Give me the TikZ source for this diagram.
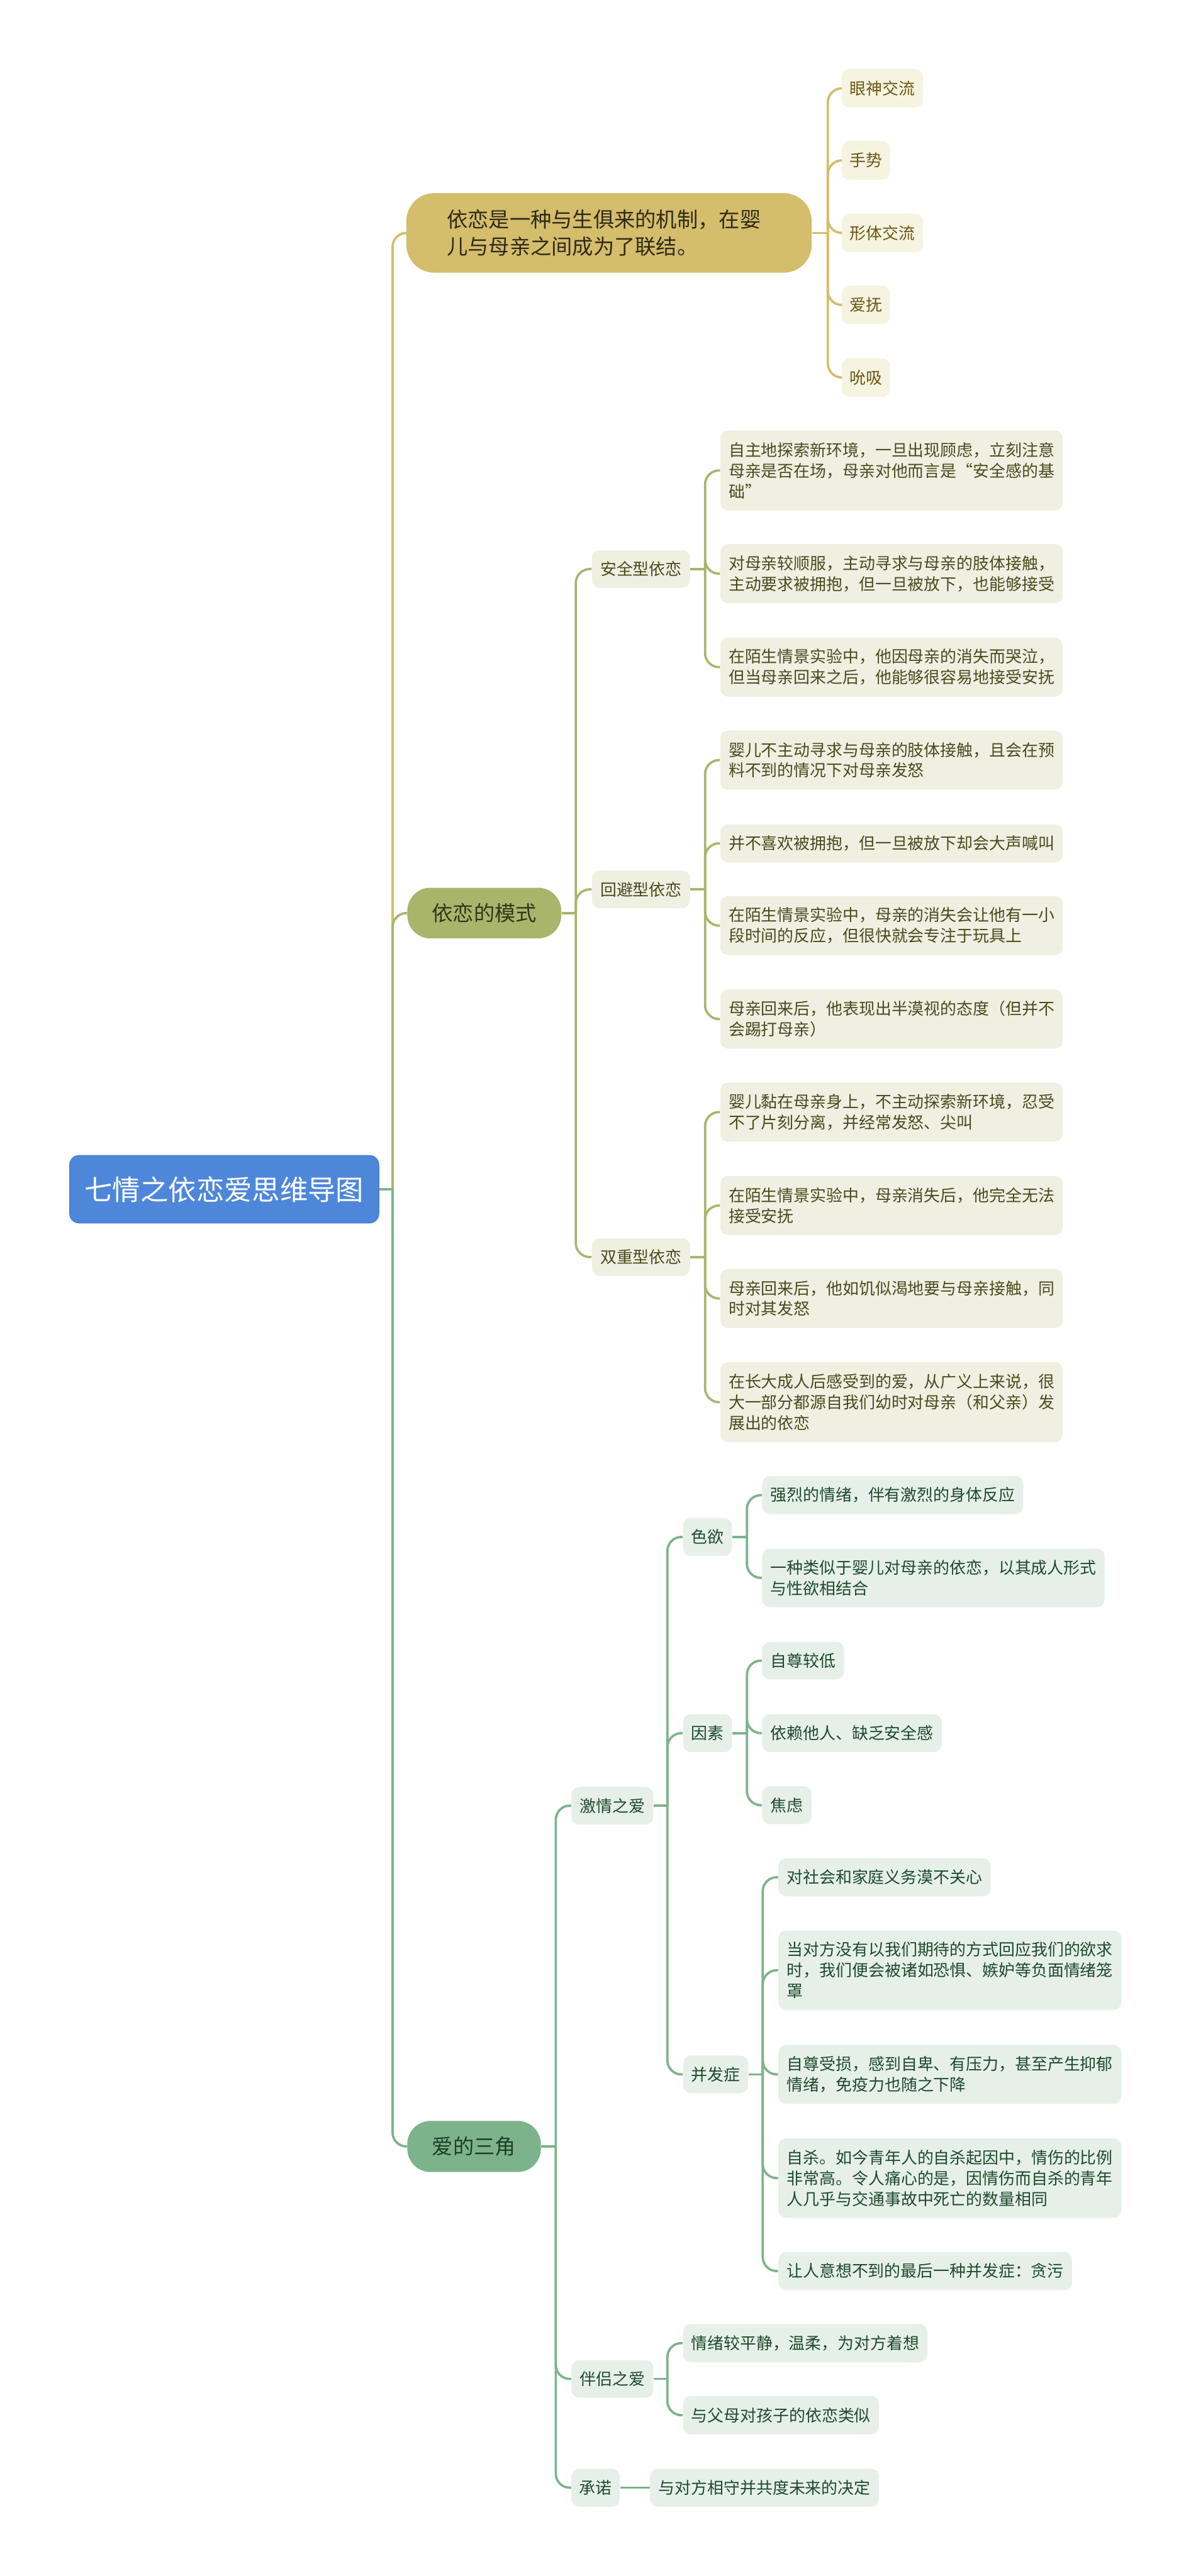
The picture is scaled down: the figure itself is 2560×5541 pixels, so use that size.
\documentclass[tikz,border=0pt]{standalone}
\usepackage{fontspec}
\setmainfont{Noto Sans CJK SC}
\definecolor{rootFill}{HTML}{4E87DA}
\definecolor{rootLine}{HTML}{4A80D0}
\definecolor{gMain}{HTML}{D4BD6B}
\definecolor{gLeaf}{HTML}{F6F3E1}
\definecolor{gText}{HTML}{6B5714}
\definecolor{gMainText}{HTML}{2F2A18}
\definecolor{oMain}{HTML}{AAB56C}
\definecolor{oLeaf}{HTML}{EFEFE2}
\definecolor{oText}{HTML}{464D1C}
\definecolor{oMainText}{HTML}{33361A}
\definecolor{nMain}{HTML}{7DB38B}
\definecolor{nLeaf}{HTML}{E6F0E9}
\definecolor{nText}{HTML}{1F4A2C}
\definecolor{nMainText}{HTML}{1F3D27}
\newcommand\fsleaf{\fontsize{9.96pt}{12.66pt}\selectfont}
\newcommand\fsmain{\fontsize{12.8pt}{16.8pt}\selectfont}
\newcommand\fsroot{\fontsize{17.07pt}{20pt}\selectfont}
\begin{document}
\begin{tikzpicture}[x=0.01cm,y=-0.01cm,
  base/.style={anchor=west, inner sep=0pt, align=left, font=\fsleaf, rounded corners=0.17cm},
  leafG/.style={base, fill=gLeaf, text=gText, minimum height=0.83cm},
  leafO/.style={base, fill=oLeaf, text=oText},
  leafN/.style={base, fill=nLeaf, text=nText},
  mainbox/.style={anchor=west, inner sep=0pt, align=left, font=\fsmain},
  lineG/.style={draw=gMain, line width=0.05cm},
  lineO/.style={draw=oMain, line width=0.05cm},
  lineN/.style={draw=nMain, line width=0.05cm},
  rc/.style={rounded corners=0.3cm}
]
\useasboundingbox (0,0) rectangle (2560,5541);

% ---------- root ----------
\node[anchor=west, inner sep=0pt, fill=rootFill, draw=rootLine, line width=0.02cm,
  rounded corners=0.2cm, minimum width=6.64cm, minimum height=1.45cm,
  font=\fsroot, text=white] (root) at (149,2558) {七情之依恋爱思维导图};

% ---------- gold branch ----------
\node[mainbox, fill=gMain, text=gMainText, rounded corners=0.6cm,
  minimum width=8.71cm, minimum height=1.71cm, text width=6.97cm] (gm) at (873,501)
  {依恋是一种与生俱来的机制，在婴\\儿与母亲之间成为了联结。};
\node[leafG, minimum width=1.75cm] (g1) at (1809,190) {眼神交流};
\node[leafG, minimum width=1.04cm] (g2) at (1809,345) {手势};
\node[leafG, minimum width=1.75cm] (g3) at (1809,501) {形体交流};
\node[leafG, minimum width=1.04cm] (g4) at (1809,656) {爱抚};
\node[leafG, minimum width=1.04cm] (g5) at (1809,812) {吮吸};

% ---------- olive branch ----------
\node[mainbox, fill=oMain, text=oMainText, rounded corners=0.5cm,
  minimum width=3.31cm, minimum height=1.09cm, align=center] (om) at (875,1964) {依恋的模式};
\node[leafO, minimum width=2.11cm, minimum height=0.81cm] (o1) at (1272,1224) {安全型依恋};
\node[leafO, minimum width=2.11cm, minimum height=0.81cm] (o2) at (1272,1913) {回避型依恋};
\node[leafO, minimum width=2.11cm, minimum height=0.81cm] (o3) at (1272,2704) {双重型依恋};

\node[leafO, minimum width=7.36cm, minimum height=1.72cm] (o1a) at (1548,1012)
  {自主地探索新环境，一旦出现顾虑，立刻注意\\母亲是否在场，母亲对他而言是“安全感的基\\础”};
\node[leafO, minimum width=7.36cm, minimum height=1.27cm] (o1b) at (1548,1234)
  {对母亲较顺服，主动寻求与母亲的肢体接触，\\主动要求被拥抱，但一旦被放下，也能够接受};
\node[leafO, minimum width=7.36cm, minimum height=1.27cm] (o1c) at (1548,1435)
  {在陌生情景实验中，他因母亲的消失而哭泣，\\但当母亲回来之后，他能够很容易地接受安抚};

\node[leafO, minimum width=7.36cm, minimum height=1.27cm] (o2a) at (1548,1635)
  {婴儿不主动寻求与母亲的肢体接触，且会在预\\料不到的情况下对母亲发怒};
\node[leafO, minimum width=7.36cm, minimum height=0.82cm] (o2b) at (1548,1814)
  {并不喜欢被拥抱，但一旦被放下却会大声喊叫};
\node[leafO, minimum width=7.36cm, minimum height=1.27cm] (o2c) at (1548,1991)
  {在陌生情景实验中，母亲的消失会让他有一小\\段时间的反应，但很快就会专注于玩具上};
\node[leafO, minimum width=7.36cm, minimum height=1.27cm] (o2d) at (1548,2192)
  {母亲回来后，他表现出半漠视的态度（但并不\\会踢打母亲）};

\node[leafO, minimum width=7.36cm, minimum height=1.27cm] (o3a) at (1548,2392)
  {婴儿黏在母亲身上，不主动探索新环境，忍受\\不了片刻分离，并经常发怒、尖叫};
\node[leafO, minimum width=7.36cm, minimum height=1.27cm] (o3b) at (1548,2593)
  {在陌生情景实验中，母亲消失后，他完全无法\\接受安抚};
\node[leafO, minimum width=7.36cm, minimum height=1.27cm] (o3c) at (1548,2793)
  {母亲回来后，他如饥似渴地要与母亲接触，同\\时对其发怒};
\node[leafO, minimum width=7.36cm, minimum height=1.72cm] (o3d) at (1548,3016)
  {在长大成人后感受到的爱，从广义上来说，很\\大一部分都源自我们幼时对母亲（和父亲）发\\展出的依恋};

% ---------- green branch ----------
\node[mainbox, fill=nMain, text=nMainText, rounded corners=0.5cm,
  minimum width=2.87cm, minimum height=1.10cm, align=center] (nm) at (875,4617) {爱的三角};
\node[leafN, minimum width=1.76cm, minimum height=0.81cm] (n1) at (1228,3884) {激情之爱};
\node[leafN, minimum width=1.76cm, minimum height=0.81cm] (n2) at (1228,5117) {伴侣之爱};
\node[leafN, minimum width=1.04cm, minimum height=0.82cm] (n3) at (1228,5351) {承诺};

\node[leafN, minimum width=1.05cm, minimum height=0.82cm] (n1a) at (1468,3306) {色欲};
\node[leafN, minimum width=1.05cm, minimum height=0.82cm] (n1b) at (1468,3728) {因素};
\node[leafN, minimum width=1.40cm, minimum height=0.81cm] (n1c) at (1468,4462) {并发症};

\node[leafN, minimum width=5.61cm, minimum height=0.82cm] (n1a1) at (1638,3216)
  {强烈的情绪，伴有激烈的身体反应};
\node[leafN, minimum width=7.36cm, minimum height=1.26cm] (n1a2) at (1638,3394)
  {一种类似于婴儿对母亲的依恋，以其成人形式\\与性欲相结合};

\node[leafN, minimum width=1.76cm, minimum height=0.81cm] (n1b1) at (1638,3572) {自尊较低};
\node[leafN, minimum width=3.86cm, minimum height=0.82cm] (n1b2) at (1638,3728) {依赖他人、缺乏安全感};
\node[leafN, minimum width=1.06cm, minimum height=0.82cm] (n1b3) at (1638,3883) {焦虑};

\node[leafN, minimum width=4.56cm, minimum height=0.82cm] (n1c1) at (1673,4038)
  {对社会和家庭义务漠不关心};
\node[leafN, minimum width=7.37cm, minimum height=1.71cm] (n1c2) at (1673,4238)
  {当对方没有以我们期待的方式回应我们的欲求\\时，我们便会被诸如恐惧、嫉妒等负面情绪笼\\罩};
\node[leafN, minimum width=7.37cm, minimum height=1.27cm] (n1c3) at (1673,4462)
  {自尊受损，感到自卑、有压力，甚至产生抑郁\\情绪，免疫力也随之下降};
\node[leafN, minimum width=7.37cm, minimum height=1.71cm] (n1c4) at (1673,4685)
  {自杀。如今青年人的自杀起因中，情伤的比例\\非常高。令人痛心的是，因情伤而自杀的青年\\人几乎与交通事故中死亡的数量相同};
\node[leafN, minimum width=6.31cm, minimum height=0.82cm] (n1c5) at (1673,4885)
  {让人意想不到的最后一种并发症：贪污};

\node[leafN, minimum width=5.25cm, minimum height=0.82cm] (n2a) at (1468,5040)
  {情绪较平静，温柔，为对方着想};
\node[leafN, minimum width=4.21cm, minimum height=0.83cm] (n2b) at (1468,5195)
  {与父母对孩子的依恋类似};
\node[leafN, minimum width=4.92cm, minimum height=0.82cm] (n3a) at (1397,5351)
  {与对方相守并共度未来的决定};

% ---------- spine points ----------
\coordinate (s0) at (844,2558);
\coordinate (sg) at (1780,501);
\coordinate (so) at (1238,1964);
\coordinate (so1) at (1516,1224);
\coordinate (so2) at (1516,1913);
\coordinate (so3) at (1516,2704);
\coordinate (sn) at (1195,4617);
\coordinate (sn1) at (1435,3884);
\coordinate (sn1a) at (1606,3306);
\coordinate (sn1b) at (1606,3728);
\coordinate (sn1c) at (1640,4462);
\coordinate (sn2) at (1435,5117);

% ---------- connectors: gold ----------
\draw[lineG, rc] (s0) |- (gm.west);
\draw[lineG] (gm.east) -- (sg);
\foreach \c in {g1,g2,g3,g4,g5} \draw[lineG, rc] (sg) |- (\c.west);

% ---------- connectors: olive ----------
\draw[lineO, rc] (s0) |- (om.west);
\draw[lineO] (om.east) -- (so);
\foreach \c in {o1,o2,o3} \draw[lineO, rc] (so) |- (\c.west);
\draw[lineO] (o1.east) -- (so1);
\foreach \c in {o1a,o1b,o1c} \draw[lineO, rc] (so1) |- (\c.west);
\draw[lineO] (o2.east) -- (so2);
\foreach \c in {o2a,o2b,o2c,o2d} \draw[lineO, rc] (so2) |- (\c.west);
\draw[lineO] (o3.east) -- (so3);
\foreach \c in {o3a,o3b,o3c,o3d} \draw[lineO, rc] (so3) |- (\c.west);

% ---------- connectors: green ----------
\draw[lineN, rc] (s0) |- (nm.west);
\draw[lineN] (root.east) -- (s0);
\draw[lineN] (nm.east) -- (sn);
\foreach \c in {n1,n2,n3} \draw[lineN, rc] (sn) |- (\c.west);
\draw[lineN] (n1.east) -- (sn1);
\foreach \c in {n1a,n1b,n1c} \draw[lineN, rc] (sn1) |- (\c.west);
\draw[lineN] (n1a.east) -- (sn1a);
\foreach \c in {n1a1,n1a2} \draw[lineN, rc] (sn1a) |- (\c.west);
\draw[lineN] (n1b.east) -- (sn1b);
\foreach \c in {n1b1,n1b2,n1b3} \draw[lineN, rc] (sn1b) |- (\c.west);
\draw[lineN] (n1c.east) -- (sn1c);
\foreach \c in {n1c1,n1c2,n1c3,n1c4,n1c5} \draw[lineN, rc] (sn1c) |- (\c.west);
\draw[lineN] (n2.east) -- (sn2);
\foreach \c in {n2a,n2b} \draw[lineN, rc] (sn2) |- (\c.west);
\draw[lineN] (n3.east) -- (n3a.west);
\end{tikzpicture}
\end{document}
